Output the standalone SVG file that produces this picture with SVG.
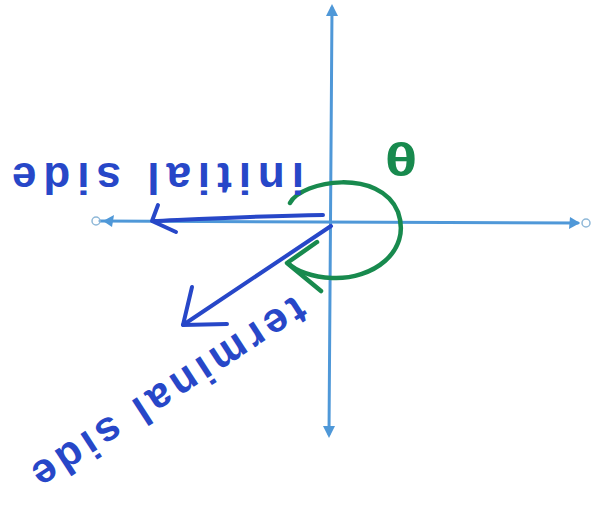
<svg xmlns="http://www.w3.org/2000/svg" width="597" height="506" viewBox="0 0 597 506">
  <style>
    .axis { stroke: #4f98d8; stroke-width: 3; fill: none; stroke-linecap: round; }
    .axhead { fill: #4f98d8; }
    .axend { stroke: #8fb8d8; stroke-width: 1.5; fill: none; }
    .side { stroke: #2747c8; stroke-width: 4; fill: none; stroke-linecap: round; stroke-linejoin: round; }
    .ang { stroke: #188a4e; stroke-width: 4.5; fill: none; stroke-linecap: round; stroke-linejoin: round; }
    .lbl { font-family: "Liberation Sans", Arial, sans-serif; font-weight: bold; fill: #2747c8; }
    .theta { font-family: "Liberation Sans", Arial, sans-serif; font-weight: bold; fill: #188a4e; }
  </style>
  <rect width="597" height="506" fill="#ffffff"/>
  <g id="connectors">
    <g id="x-axis">
      <line class="axis" x1="100" y1="221" x2="578" y2="223"/>
      <path class="axhead" d="M103,221 L114,215 L112,227 Z"/>
      <path class="axhead" d="M580,223 L569,229 L570,217 Z"/>
      <circle class="axend" cx="96" cy="221" r="4"/>
      <circle class="axend" cx="586" cy="223" r="4"/>
    </g>
    <g id="y-axis">
      <line class="axis" x1="332" y1="8" x2="329" y2="434"/>
      <path class="axhead" d="M332,4 L338,16 L326,16 Z"/>
      <path class="axhead" d="M329,438 L323,426 L335,426 Z"/>
    </g>
    <g id="initial-side">
      <path class="side" d="M323,215 C260,216 200,219 153,221"/>
      <path class="side" d="M158,205 L152,221 L176,232"/>
    </g>
    <g id="terminal-side">
      <path class="side" d="M331,226 L183,325"/>
      <path class="side" d="M192,287 L183,325 L227,324"/>
    </g>
    <g id="angle-arc">
      <path class="ang" d="M290,203 C302,180 380,168 398,212 C412,252 372,280 332,278 C312,277 296,271 288,263"/>
      <path class="ang" d="M317,242 L287,263 L321,291"/>
    </g>
  </g>
  <g id="label-initial-side">
    <text class="lbl" font-size="44" text-anchor="middle" textLength="292" lengthAdjust="spacing" transform="translate(158,163) rotate(180)">initial side</text>
  </g>
  <g id="label-terminal-side">
    <text class="lbl" font-size="42" text-anchor="middle" textLength="318" lengthAdjust="spacing" transform="translate(162,381) rotate(147)">terminal side</text>
  </g>
  <g id="label-theta">
    <text class="theta" font-size="46" text-anchor="middle" transform="translate(401,158) rotate(180) scale(1.3,1)" y="16">θ</text>
  </g>
</svg>
